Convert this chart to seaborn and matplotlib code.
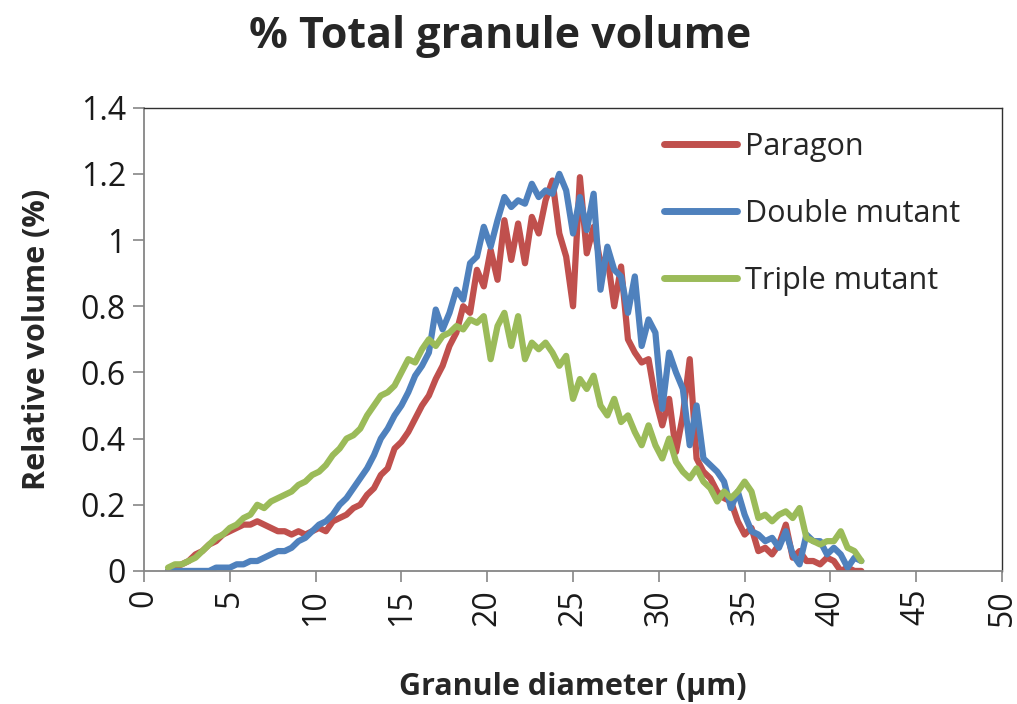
import numpy as np
import pandas as pd
import matplotlib
matplotlib.use("Agg")
import matplotlib.pyplot as plt
import seaborn as sns

diameter = [1.4, 1.8, 2.2, 2.6, 3.0, 3.4, 3.8, 4.2, 4.6, 5.0, 5.4, 5.8, 6.2, 6.6, 7.0, 7.4, 7.8, 8.2, 8.6, 9.0,
            9.4, 9.8, 10.2, 10.6, 11.0, 11.4, 11.8, 12.2, 12.6, 13.0, 13.4, 13.8, 14.2, 14.6, 15.0, 15.4, 15.8, 16.2, 16.6, 17.0,
            17.4, 17.8, 18.2, 18.6, 19.0, 19.4, 19.8, 20.2, 20.6, 21.0, 21.4, 21.8, 22.2, 22.6, 23.0, 23.4, 23.8, 24.2, 24.6, 25.0,
            25.4, 25.8, 26.2, 26.6, 27.0, 27.4, 27.8, 28.2, 28.6, 29.0, 29.4, 29.8, 30.2, 30.6, 31.0, 31.4, 31.8, 32.2, 32.6, 33.0,
            33.4, 33.8, 34.2, 34.6, 35.0, 35.4, 35.8, 36.2, 36.6, 37.0, 37.4, 37.8, 38.2, 38.6, 39.0, 39.4, 39.8, 40.2, 40.6, 41.0,
            41.4, 41.8]

paragon = [0.00, 0.01, 0.02, 0.03, 0.05, 0.06, 0.08, 0.09, 0.11, 0.12, 0.13, 0.14, 0.14, 0.15, 0.14, 0.13, 0.12, 0.12, 0.11, 0.12,
           0.11, 0.12, 0.13, 0.12, 0.15, 0.16, 0.17, 0.19, 0.20, 0.23, 0.25, 0.29, 0.31, 0.37, 0.39, 0.42, 0.46, 0.50, 0.53, 0.58,
           0.62, 0.68, 0.72, 0.80, 0.78, 0.91, 0.86, 0.97, 0.88, 1.06, 0.94, 1.05, 0.93, 1.07, 1.02, 1.12, 1.18, 1.02, 0.95, 0.80,
           1.19, 0.96, 1.04, 0.93, 0.95, 0.80, 0.92, 0.70, 0.66, 0.63, 0.64, 0.52, 0.44, 0.52, 0.36, 0.47, 0.64, 0.34, 0.30, 0.28,
           0.24, 0.22, 0.21, 0.15, 0.11, 0.13, 0.06, 0.07, 0.05, 0.08, 0.14, 0.04, 0.06, 0.03, 0.03, 0.02, 0.04, 0.03, 0.00, 0.01,
           0.00, 0.00]

double_mutant = [0.00, 0.00, 0.00, 0.00, 0.00, 0.00, 0.00, 0.01, 0.01, 0.01, 0.02, 0.02, 0.03, 0.03, 0.04, 0.05, 0.06, 0.06, 0.07, 0.09,
                 0.10, 0.12, 0.14, 0.15, 0.17, 0.20, 0.22, 0.25, 0.28, 0.31, 0.35, 0.40, 0.43, 0.47, 0.50, 0.54, 0.59, 0.62, 0.66, 0.79,
                 0.73, 0.78, 0.85, 0.82, 0.93, 0.95, 1.04, 0.98, 1.06, 1.13, 1.10, 1.12, 1.11, 1.17, 1.13, 1.15, 1.14, 1.20, 1.15, 1.02,
                 1.13, 1.03, 1.14, 0.85, 0.98, 0.91, 0.89, 0.78, 0.89, 0.68, 0.76, 0.72, 0.49, 0.66, 0.60, 0.55, 0.38, 0.50, 0.34, 0.32,
                 0.30, 0.27, 0.19, 0.24, 0.17, 0.12, 0.11, 0.09, 0.10, 0.07, 0.12, 0.05, 0.02, 0.11, 0.09, 0.09, 0.05, 0.07, 0.05, 0.01,
                 0.04, 0.03]

triple_mutant = [0.01, 0.02, 0.02, 0.03, 0.04, 0.06, 0.08, 0.10, 0.11, 0.13, 0.14, 0.16, 0.17, 0.20, 0.19, 0.21, 0.22, 0.23, 0.24, 0.26,
                 0.27, 0.29, 0.30, 0.32, 0.35, 0.37, 0.40, 0.41, 0.43, 0.47, 0.50, 0.53, 0.54, 0.56, 0.60, 0.64, 0.63, 0.67, 0.70, 0.68,
                 0.71, 0.72, 0.74, 0.73, 0.76, 0.75, 0.77, 0.64, 0.74, 0.78, 0.68, 0.77, 0.64, 0.69, 0.67, 0.69, 0.66, 0.62, 0.65, 0.52,
                 0.58, 0.55, 0.59, 0.50, 0.47, 0.52, 0.45, 0.47, 0.42, 0.38, 0.44, 0.38, 0.34, 0.40, 0.33, 0.30, 0.28, 0.31, 0.27, 0.25,
                 0.21, 0.24, 0.22, 0.24, 0.27, 0.24, 0.16, 0.17, 0.15, 0.17, 0.18, 0.16, 0.19, 0.10, 0.09, 0.08, 0.09, 0.09, 0.12, 0.07,
                 0.06, 0.03]

series_names = ["Paragon", "Double mutant", "Triple mutant"]
series_colors = ["#C0504D", "#4F81BD", "#9BBB59"]

x_ticks = [0, 5, 10, 15, 20, 25, 30, 35, 40, 45, 50]
y_ticks = [0, 0.2, 0.4, 0.6, 0.8, 1.0, 1.2, 1.4]
y_tick_labels = ["0", "0.2", "0.4", "0.6", "0.8", "1", "1.2", "1.4"]

frames = []
for name, vals in zip(series_names, [paragon, double_mutant, triple_mutant]):
    frames.append(pd.DataFrame({"diameter": diameter, "volume": vals, "series": name}))
df = pd.concat(frames, ignore_index=True)

sns.set_theme(style="white")
plt.rcParams["font.family"] = ["Open Sans", "DejaVu Sans"]

fig = plt.figure(figsize=(10.17, 7.04), dpi=100)
ax = fig.add_axes([0.1416, 0.189, 0.8437, 0.658])

sns.lineplot(data=df, x="diameter", y="volume", hue="series", hue_order=series_names,
             palette=series_colors, sort=False, linewidth=4.5, ax=ax, estimator=None)

ax.set_xlim(0, 50)
ax.set_ylim(0, 1.4)
ax.set_xticks(x_ticks)
ax.set_xticklabels([str(t) for t in x_ticks], rotation=90, fontsize=23, color="#1a1a1a")
ax.set_yticks(y_ticks)
ax.set_yticklabels(y_tick_labels, fontsize=23, color="#1a1a1a")
ax.tick_params(axis="both", direction="out", length=8, width=1.2, color="#868686", pad=5,
               bottom=True, left=True)

for side in ["left", "bottom"]:
    ax.spines[side].set_color("#868686")
    ax.spines[side].set_linewidth(1.3)
for side in ["top", "right"]:
    ax.spines[side].set_color("#303030")
    ax.spines[side].set_linewidth(1.0)

ax.set_xlabel("Granule diameter (μm)", fontsize=22, fontweight="bold", labelpad=33)
ax.set_ylabel("Relative volume (%)", fontsize=22, fontweight="bold", labelpad=21)

fig.text(0.492, 0.948, "% Total granule volume", ha="center", va="center",
         fontsize=31, fontweight="bold")

leg = ax.legend(loc="upper left", bbox_to_anchor=(0.574, 1.008), frameon=False,
                fontsize=22, handlelength=2.4, handletextpad=0.25, labelspacing=1.22)
for line in leg.get_lines():
    line.set_linewidth(5)

fig.savefig("out.png", dpi=100)
